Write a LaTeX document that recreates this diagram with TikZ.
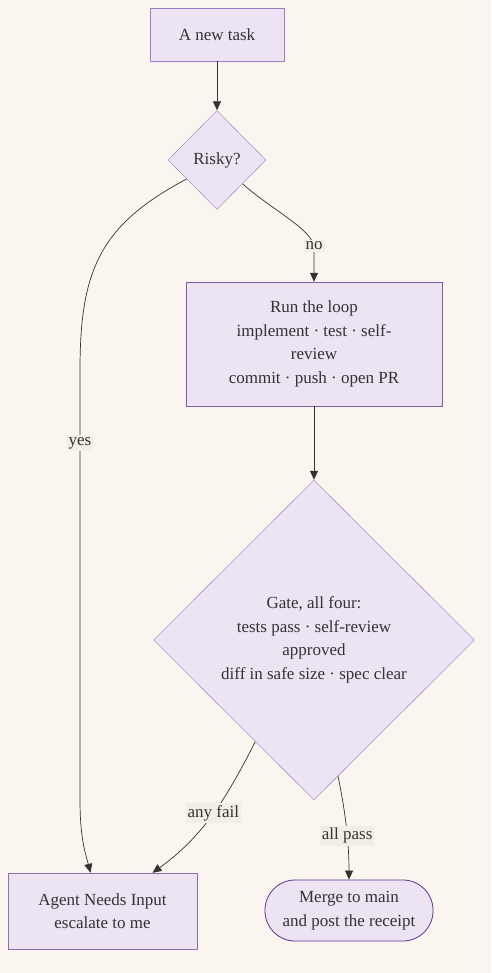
\documentclass[tikz,border=0pt]{standalone}
\usepackage{fontspec}
\setmainfont{Liberation Serif}
\usepackage{xcolor}
\usepackage{tikz}
\usetikzlibrary{shapes.geometric, arrows.meta}

\definecolor{paper}{HTML}{FAF6EF}
\definecolor{lav}{HTML}{ECE3F3}
\definecolor{edgepurple}{HTML}{9A7CC2}
\definecolor{deeppurple}{HTML}{5E3492}
\definecolor{lblbg}{HTML}{F2EEE3}
\definecolor{ink}{HTML}{333333}

\begin{document}
\begin{tikzpicture}[x=1pt, y=-1pt,
            box/.style={rectangle, draw=edgepurple, fill=lav, align=center, text=ink, font=\fontsize{17}{23.5}\selectfont},
            decision/.style={diamond, draw=edgepurple, fill=lav, align=center, text=ink, inner sep=0pt, font=\fontsize{17}{23.5}\selectfont},
            pill/.style={rectangle, rounded corners=30pt, draw=deeppurple, thick, fill=lav, align=center, text=ink, font=\fontsize{17}{23.5}\selectfont},
            lbl/.style={fill=lblbg, text=ink, inner sep=2pt, font=\fontsize{17}{20}\selectfont},
            arrow/.style={-{Triangle[length=9pt, width=8pt]}, draw=ink, line width=0.7pt}
        ]
            \useasboundingbox[fill=paper] (0,0) rectangle (491,973);

            \node[box, minimum width=134pt, minimum height=53pt] (task) at (217,34.5) {A new task};
            \node[decision, minimum width=98pt, minimum height=99pt] (risky) at (217,160) {Risky?};
            \node[box, draw=deeppurple!80, minimum width=256pt, minimum height=124pt] (loop) at (314,344) {Run the loop\\implement · test · self-\\review\\commit · push · open PR};
            \node[decision, minimum width=321pt, minimum height=320pt] (gate) at (314,640) {Gate, all four:\\tests pass · self-review\\approved\\diff in safe size · spec clear};
            \node[box, draw=edgepurple!90!black, minimum width=189pt, minimum height=76pt] (agent) at (102.5,911) {Agent Needs Input\\escalate to me};
            \node[pill, minimum width=168pt, minimum height=61pt] (merge) at (349,910.5) {Merge to main\\and post the receipt};

            \draw[arrow] (task) -- (risky);
            \draw[arrow] (risky.317) .. controls (272,210) and (310,228) .. (314,246) node[lbl] {no} -- (loop.north);
            \draw[arrow] (risky.212) .. controls (100,225) and (80,270) .. (80,370)
                -- node[lbl, pos=0.17] {yes} (80,800) .. controls (80,840) and (86,855) .. ([xshift=-12pt]agent.north);
            \draw[arrow] (loop) -- (gate);
            \draw[arrow] (gate.240) .. controls (228,795) and (205,835) .. node[lbl, pos=0.5] {any fail} ([xshift=50pt]agent.north);
            \draw[arrow] (gate.280) .. controls (345,810) and (349,840) .. node[lbl, pos=0.6] {all pass} (merge.north);

        \end{tikzpicture}
\end{document}
